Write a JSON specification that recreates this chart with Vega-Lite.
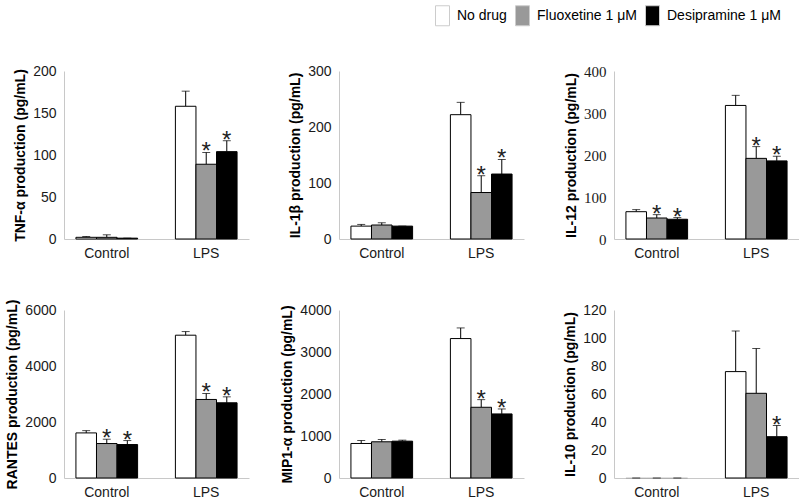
{
  "$schema": "https://vega.github.io/schema/vega-lite/v6.json",
  "background": "white",
  "padding": {"left": 5, "top": 5, "right": 0, "bottom": 0},
  "config": {
    "font": "Liberation Sans",
    "view": {"stroke": null},
    "axis": {"grid": false, "domainColor": "#c8c8c8", "labelColor": "#1a1a1a", "labelFontSize": 14, "titleFontSize": 14, "titleFontWeight": "bold", "titleColor": "#000000"},
    "axisY": {"ticks": false, "labelPadding": 8, "titlePadding": 5, "format": "d", "labelOverlap": false, "tickCount": 10},
    "axisX": {"ticks": false, "labelAngle": 0, "labelPadding": 7, "title": null},
    "bar": {"stroke": "#000000", "strokeWidth": 1},
    "legend": {"orient": "none", "legendX": 368, "legendY": -66, "direction": "horizontal", "title": null, "symbolType": "M-0.7,-1H0.7V1H-0.7Z", "symbolSize": 400, "symbolStrokeColor": "#cccccc", "symbolStrokeWidth": 1, "labelFontSize": 14, "labelColor": "#000000", "columnPadding": 5, "labelOffset": 4}
  },
  "datasets": {
    "d": [
      {"panel": "TNF", "group": "Control", "drug": "No drug", "value": 2, "hi": 3, "star": false},
      {"panel": "TNF", "group": "Control", "drug": "Fluoxetine 1 μM", "value": 2, "hi": 5, "star": false},
      {"panel": "TNF", "group": "Control", "drug": "Desipramine 1 μM", "value": 1, "hi": 1, "star": false},
      {"panel": "TNF", "group": "LPS", "drug": "No drug", "value": 158, "hi": 176, "star": false},
      {"panel": "TNF", "group": "LPS", "drug": "Fluoxetine 1 μM", "value": 89, "hi": 103, "star": true},
      {"panel": "TNF", "group": "LPS", "drug": "Desipramine 1 μM", "value": 104, "hi": 117, "star": true},
      {"panel": "IL1B", "group": "Control", "drug": "No drug", "value": 23, "hi": 26, "star": false},
      {"panel": "IL1B", "group": "Control", "drug": "Fluoxetine 1 μM", "value": 25, "hi": 29, "star": false},
      {"panel": "IL1B", "group": "Control", "drug": "Desipramine 1 μM", "value": 23, "hi": 23, "star": false},
      {"panel": "IL1B", "group": "LPS", "drug": "No drug", "value": 222, "hi": 244, "star": false},
      {"panel": "IL1B", "group": "LPS", "drug": "Fluoxetine 1 μM", "value": 83, "hi": 113, "star": true},
      {"panel": "IL1B", "group": "LPS", "drug": "Desipramine 1 μM", "value": 116, "hi": 142, "star": true},
      {"panel": "IL12", "group": "Control", "drug": "No drug", "value": 65, "hi": 70, "star": false},
      {"panel": "IL12", "group": "Control", "drug": "Fluoxetine 1 μM", "value": 50, "hi": 58, "star": true},
      {"panel": "IL12", "group": "Control", "drug": "Desipramine 1 μM", "value": 47, "hi": 51, "star": true},
      {"panel": "IL12", "group": "LPS", "drug": "No drug", "value": 318, "hi": 342, "star": false},
      {"panel": "IL12", "group": "LPS", "drug": "Fluoxetine 1 μM", "value": 192, "hi": 220, "star": true},
      {"panel": "IL12", "group": "LPS", "drug": "Desipramine 1 μM", "value": 186, "hi": 197, "star": true},
      {"panel": "RANTES", "group": "Control", "drug": "No drug", "value": 1610, "hi": 1692, "star": false},
      {"panel": "RANTES", "group": "Control", "drug": "Fluoxetine 1 μM", "value": 1231, "hi": 1385, "star": true},
      {"panel": "RANTES", "group": "Control", "drug": "Desipramine 1 μM", "value": 1195, "hi": 1337, "star": true},
      {"panel": "RANTES", "group": "LPS", "drug": "No drug", "value": 5100, "hi": 5230, "star": false},
      {"panel": "RANTES", "group": "LPS", "drug": "Fluoxetine 1 μM", "value": 2805, "hi": 3018, "star": true},
      {"panel": "RANTES", "group": "LPS", "drug": "Desipramine 1 μM", "value": 2686, "hi": 2899, "star": true},
      {"panel": "MIP", "group": "Control", "drug": "No drug", "value": 822, "hi": 893, "star": false},
      {"panel": "MIP", "group": "Control", "drug": "Fluoxetine 1 μM", "value": 862, "hi": 917, "star": false},
      {"panel": "MIP", "group": "Control", "drug": "Desipramine 1 μM", "value": 877, "hi": 901, "star": false},
      {"panel": "MIP", "group": "LPS", "drug": "No drug", "value": 3320, "hi": 3573, "star": false},
      {"panel": "MIP", "group": "LPS", "drug": "Fluoxetine 1 μM", "value": 1684, "hi": 1866, "star": true},
      {"panel": "MIP", "group": "LPS", "drug": "Desipramine 1 μM", "value": 1526, "hi": 1644, "star": true},
      {"panel": "IL10", "group": "Control", "drug": "No drug", "value": 0, "hi": 0, "star": false},
      {"panel": "IL10", "group": "Control", "drug": "Fluoxetine 1 μM", "value": 0, "hi": 0, "star": false},
      {"panel": "IL10", "group": "Control", "drug": "Desipramine 1 μM", "value": 0, "hi": 0, "star": false},
      {"panel": "IL10", "group": "LPS", "drug": "No drug", "value": 76, "hi": 105, "star": false},
      {"panel": "IL10", "group": "LPS", "drug": "Fluoxetine 1 μM", "value": 60.5, "hi": 92.5, "star": false},
      {"panel": "IL10", "group": "LPS", "drug": "Desipramine 1 μM", "value": 29.5, "hi": 37.5, "star": true}
    ]
  },
  "bounds": "flush",
  "columns": 3,
  "spacing": {"row": 71, "column": 90},
  "concat": [
    {
      "width": 185, "height": 168,
      "data": {"name": "d"},
      "transform": [{"filter": "datum.panel === 'TNF'"}],
      "encoding": {
        "x": {"field": "group", "type": "nominal", "sort": ["Control", "LPS"], "scale": {"paddingInner": 0.38, "paddingOuter": 0.12}, "axis": {"title": null}},
        "xOffset": {"field": "drug", "type": "nominal", "sort": ["No drug", "Fluoxetine 1 μM", "Desipramine 1 μM"]}
      },
      "layer": [
        {"mark": {"type": "rule", "color": "#000000", "strokeWidth": 1}, "encoding": {"y": {"field": "value", "type": "quantitative", "scale": {"domain": [0, 200], "nice": false}, "axis": {"title": "TNF-α production (pg/mL)", "values": [0, 50, 100, 150, 200]}}, "y2": {"field": "hi"}}},
        {"mark": {"type": "tick", "color": "#000000", "thickness": 1, "size": 8, "orient": "horizontal"}, "encoding": {"y": {"field": "hi", "type": "quantitative"}}},
        {"mark": {"type": "bar"}, "encoding": {"y": {"field": "value", "type": "quantitative"}, "strokeOpacity": {"condition": {"test": "datum.value === 0", "value": 0.12}, "value": 1}, "color": {"field": "drug", "type": "nominal", "scale": {"domain": ["No drug", "Fluoxetine 1 μM", "Desipramine 1 μM"], "range": ["#ffffff", "#999999", "#000000"]}}}},
        {"transform": [{"filter": "datum.star"}], "mark": {"type": "text", "fontSize": 24, "dy": 7, "baseline": "alphabetic", "color": "#222222"}, "encoding": {"y": {"field": "hi", "type": "quantitative"}, "text": {"value": "*"}}}
      ]
    },
    {
      "width": 185, "height": 168,
      "data": {"name": "d"},
      "transform": [{"filter": "datum.panel === 'IL1B'"}],
      "encoding": {
        "x": {"field": "group", "type": "nominal", "sort": ["Control", "LPS"], "scale": {"paddingInner": 0.38, "paddingOuter": 0.12}, "axis": {"title": null}},
        "xOffset": {"field": "drug", "type": "nominal", "sort": ["No drug", "Fluoxetine 1 μM", "Desipramine 1 μM"]}
      },
      "layer": [
        {"mark": {"type": "rule", "color": "#000000", "strokeWidth": 1}, "encoding": {"y": {"field": "value", "type": "quantitative", "scale": {"domain": [0, 300], "nice": false}, "axis": {"title": "IL-1β production (pg/mL)", "values": [0, 100, 200, 300]}}, "y2": {"field": "hi"}}},
        {"mark": {"type": "tick", "color": "#000000", "thickness": 1, "size": 8, "orient": "horizontal"}, "encoding": {"y": {"field": "hi", "type": "quantitative"}}},
        {"mark": {"type": "bar"}, "encoding": {"y": {"field": "value", "type": "quantitative"}, "strokeOpacity": {"condition": {"test": "datum.value === 0", "value": 0.12}, "value": 1}, "color": {"field": "drug", "type": "nominal", "scale": {"domain": ["No drug", "Fluoxetine 1 μM", "Desipramine 1 μM"], "range": ["#ffffff", "#999999", "#000000"]}}}},
        {"transform": [{"filter": "datum.star"}], "mark": {"type": "text", "fontSize": 24, "dy": 7, "baseline": "alphabetic", "color": "#222222"}, "encoding": {"y": {"field": "hi", "type": "quantitative"}, "text": {"value": "*"}}}
      ]
    },
    {
      "width": 185, "height": 168,
      "data": {"name": "d"},
      "transform": [{"filter": "datum.panel === 'IL12'"}],
      "encoding": {
        "x": {"field": "group", "type": "nominal", "sort": ["Control", "LPS"], "scale": {"paddingInner": 0.38, "paddingOuter": 0.12}, "axis": {"title": null}},
        "xOffset": {"field": "drug", "type": "nominal", "sort": ["No drug", "Fluoxetine 1 μM", "Desipramine 1 μM"]}
      },
      "layer": [
        {"mark": {"type": "rule", "color": "#000000", "strokeWidth": 1}, "encoding": {"y": {"field": "value", "type": "quantitative", "scale": {"domain": [0, 400], "nice": false}, "axis": {"title": "IL-12 production (pg/mL)", "values": [0, 100, 200, 300, 400], "labelFont": "Liberation Serif", "labelFontSize": 15}}, "y2": {"field": "hi"}}},
        {"mark": {"type": "tick", "color": "#000000", "thickness": 1, "size": 8, "orient": "horizontal"}, "encoding": {"y": {"field": "hi", "type": "quantitative"}}},
        {"mark": {"type": "bar"}, "encoding": {"y": {"field": "value", "type": "quantitative"}, "strokeOpacity": {"condition": {"test": "datum.value === 0", "value": 0.12}, "value": 1}, "color": {"field": "drug", "type": "nominal", "scale": {"domain": ["No drug", "Fluoxetine 1 μM", "Desipramine 1 μM"], "range": ["#ffffff", "#999999", "#000000"]}}}},
        {"transform": [{"filter": "datum.star"}], "mark": {"type": "text", "fontSize": 24, "dy": 7, "baseline": "alphabetic", "color": "#222222"}, "encoding": {"y": {"field": "hi", "type": "quantitative"}, "text": {"value": "*"}}}
      ]
    },
    {
      "width": 185, "height": 168,
      "data": {"name": "d"},
      "transform": [{"filter": "datum.panel === 'RANTES'"}],
      "encoding": {
        "x": {"field": "group", "type": "nominal", "sort": ["Control", "LPS"], "scale": {"paddingInner": 0.38, "paddingOuter": 0.12}, "axis": {"title": null}},
        "xOffset": {"field": "drug", "type": "nominal", "sort": ["No drug", "Fluoxetine 1 μM", "Desipramine 1 μM"]}
      },
      "layer": [
        {"mark": {"type": "rule", "color": "#000000", "strokeWidth": 1}, "encoding": {"y": {"field": "value", "type": "quantitative", "scale": {"domain": [0, 6000], "nice": false}, "axis": {"title": "RANTES production (pg/mL)", "values": [0, 2000, 4000, 6000]}}, "y2": {"field": "hi"}}},
        {"mark": {"type": "tick", "color": "#000000", "thickness": 1, "size": 8, "orient": "horizontal"}, "encoding": {"y": {"field": "hi", "type": "quantitative"}}},
        {"mark": {"type": "bar"}, "encoding": {"y": {"field": "value", "type": "quantitative"}, "strokeOpacity": {"condition": {"test": "datum.value === 0", "value": 0.12}, "value": 1}, "color": {"field": "drug", "type": "nominal", "scale": {"domain": ["No drug", "Fluoxetine 1 μM", "Desipramine 1 μM"], "range": ["#ffffff", "#999999", "#000000"]}}}},
        {"transform": [{"filter": "datum.star"}], "mark": {"type": "text", "fontSize": 24, "dy": 7, "baseline": "alphabetic", "color": "#222222"}, "encoding": {"y": {"field": "hi", "type": "quantitative"}, "text": {"value": "*"}}}
      ]
    },
    {
      "width": 185, "height": 168,
      "data": {"name": "d"},
      "transform": [{"filter": "datum.panel === 'MIP'"}],
      "encoding": {
        "x": {"field": "group", "type": "nominal", "sort": ["Control", "LPS"], "scale": {"paddingInner": 0.38, "paddingOuter": 0.12}, "axis": {"title": null}},
        "xOffset": {"field": "drug", "type": "nominal", "sort": ["No drug", "Fluoxetine 1 μM", "Desipramine 1 μM"]}
      },
      "layer": [
        {"mark": {"type": "rule", "color": "#000000", "strokeWidth": 1}, "encoding": {"y": {"field": "value", "type": "quantitative", "scale": {"domain": [0, 4000], "nice": false}, "axis": {"title": "MIP1-α production (pg/mL)", "values": [0, 1000, 2000, 3000, 4000]}}, "y2": {"field": "hi"}}},
        {"mark": {"type": "tick", "color": "#000000", "thickness": 1, "size": 8, "orient": "horizontal"}, "encoding": {"y": {"field": "hi", "type": "quantitative"}}},
        {"mark": {"type": "bar"}, "encoding": {"y": {"field": "value", "type": "quantitative"}, "strokeOpacity": {"condition": {"test": "datum.value === 0", "value": 0.12}, "value": 1}, "color": {"field": "drug", "type": "nominal", "scale": {"domain": ["No drug", "Fluoxetine 1 μM", "Desipramine 1 μM"], "range": ["#ffffff", "#999999", "#000000"]}}}},
        {"transform": [{"filter": "datum.star"}], "mark": {"type": "text", "fontSize": 24, "dy": 7, "baseline": "alphabetic", "color": "#222222"}, "encoding": {"y": {"field": "hi", "type": "quantitative"}, "text": {"value": "*"}}}
      ]
    },
    {
      "width": 185, "height": 168,
      "data": {"name": "d"},
      "transform": [{"filter": "datum.panel === 'IL10'"}],
      "encoding": {
        "x": {"field": "group", "type": "nominal", "sort": ["Control", "LPS"], "scale": {"paddingInner": 0.38, "paddingOuter": 0.12}, "axis": {"title": null}},
        "xOffset": {"field": "drug", "type": "nominal", "sort": ["No drug", "Fluoxetine 1 μM", "Desipramine 1 μM"]}
      },
      "layer": [
        {"mark": {"type": "rule", "color": "#000000", "strokeWidth": 1}, "encoding": {"y": {"field": "value", "type": "quantitative", "scale": {"domain": [0, 120], "nice": false}, "axis": {"title": "IL-10 production (pg/mL)", "values": [0, 20, 40, 60, 80, 100, 120], "tickCount": 10}}, "y2": {"field": "hi"}}},
        {"mark": {"type": "tick", "color": "#000000", "thickness": 1, "size": 8, "orient": "horizontal"}, "encoding": {"y": {"field": "hi", "type": "quantitative"}}},
        {"mark": {"type": "bar"}, "encoding": {"y": {"field": "value", "type": "quantitative"}, "strokeOpacity": {"condition": {"test": "datum.value === 0", "value": 0.12}, "value": 1}, "color": {"field": "drug", "type": "nominal", "scale": {"domain": ["No drug", "Fluoxetine 1 μM", "Desipramine 1 μM"], "range": ["#ffffff", "#999999", "#000000"]}}}},
        {"transform": [{"filter": "datum.star"}], "mark": {"type": "text", "fontSize": 24, "dy": 7, "baseline": "alphabetic", "color": "#222222"}, "encoding": {"y": {"field": "hi", "type": "quantitative"}, "text": {"value": "*"}}}
      ]
    }
  ]
}
